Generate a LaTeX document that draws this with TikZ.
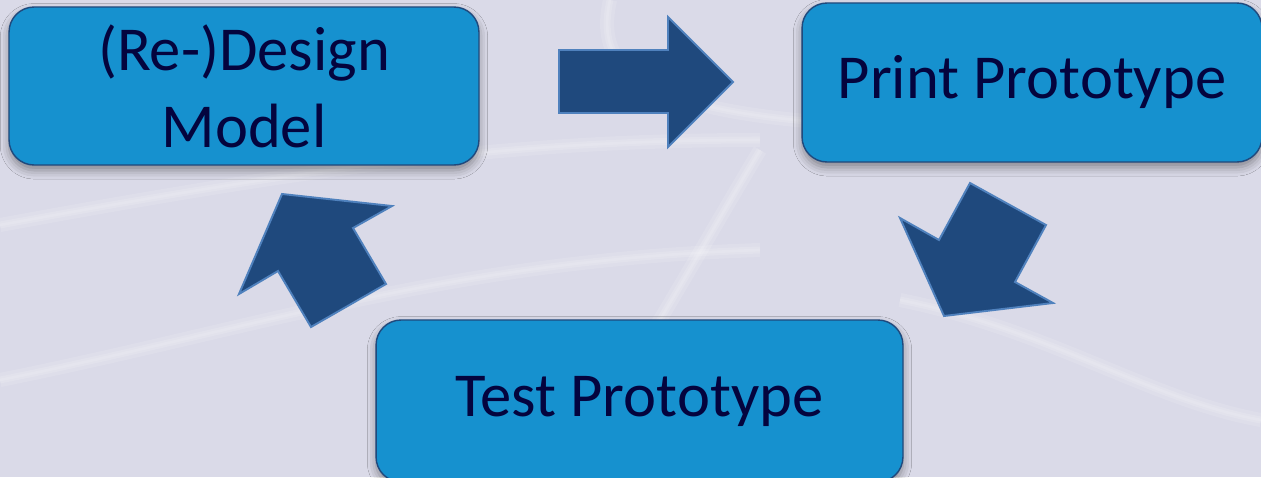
\documentclass[tikz,border=0pt]{standalone}
\usepackage{fontspec}
\setmainfont{Carlito}
\usetikzlibrary{shadows.blur}

\definecolor{bgcol}{RGB}{218,218,232}
\definecolor{boxfill}{RGB}{22,145,207}
\definecolor{boxline}{RGB}{31,73,125}
\definecolor{arrfill}{RGB}{31,73,125}
\definecolor{arrline}{RGB}{79,129,189}
\definecolor{txtcol}{RGB}{4,4,62}

\tikzset{
  stagebox/.style={draw=boxline, line width=0.8pt, fill=boxfill, rounded corners=0.5cm,
    text=txtcol, align=center, font=\fontsize{35.6}{43.8}\selectfont,
    blur shadow={shadow xshift=0pt, shadow yshift=-3pt, shadow blur radius=5pt,
      shadow opacity=40}},
  blockarrow/.style={draw=arrline, line width=1.1pt, fill=arrfill, line join=miter},
  swoosh/.style={white, opacity=0.12, line width=#1},
  swoosh/.default=6pt
}

\begin{document}
\begin{tikzpicture}[x=0.02cm, y=-0.02cm]
   % backdrop
   \fill [bgcol] (0,0) rectangle (1261,477);
   \useasboundingbox (0,0) rectangle (1261,477);
   \foreach \w in {8pt,4pt,1.5pt} {
      \draw [swoosh=\w] (0,225) .. controls (300,170) and (500,140) .. (760,140);
      \draw [swoosh=\w] (610,0) .. controls (590,90) and (660,150) .. (1261,120);
      \draw [swoosh=\w] (760,150) .. controls (700,250) and (640,360) .. (560,477);
      \draw [swoosh=\w] (0,380) .. controls (250,330) and (450,260) .. (760,250);
      \draw [swoosh=\w] (900,300) .. controls (1050,330) and (1150,400) .. (1261,420);
   }

   % the three steps
   \node [stagebox, minimum width=9.4cm, minimum height=3.16cm] (design) at (244,86) {(Re-)Design\\Model};
   \node [stagebox, minimum width=9.2cm, minimum height=3.18cm] (print) at (1032,82.5) {Print Prototype};
   \node [stagebox, minimum width=10.54cm, minimum height=3.24cm] (test) at (639.5,401) {Test Prototype};

   % block arrows between them
   \draw [blockarrow] (559,50) -- (668,50) -- (668,17) -- (733,82) -- (668,147) -- (668,113) -- (559,113) -- cycle;
   \draw [blockarrow] (970,183) -- (1046,225) -- (1015,282) -- (1053,303) -- (944,316) -- (900,218) -- (939,240) -- cycle;
   \draw [blockarrow] (282,194) -- (392,206) -- (353,228) -- (386,284) -- (311,327) -- (278,271) -- (239,294) -- cycle;
\end{tikzpicture}
\end{document}
